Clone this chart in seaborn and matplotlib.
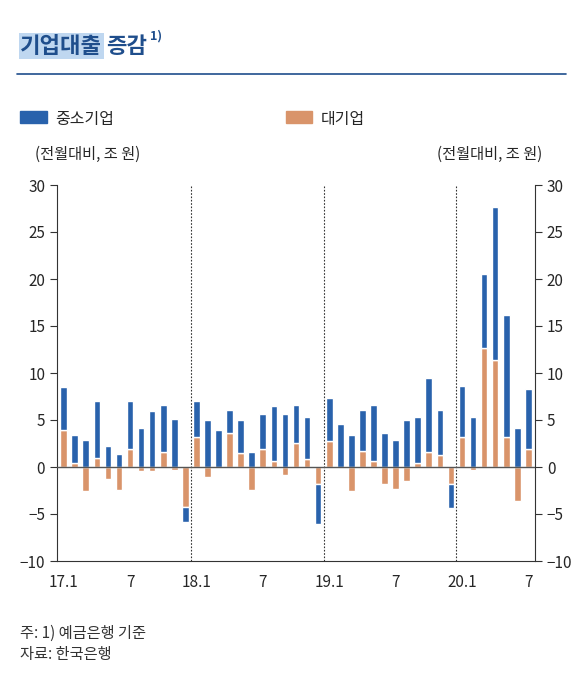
import numpy as np
import pandas as pd
import matplotlib
matplotlib.use("Agg")
import matplotlib.pyplot as plt
import seaborn as sns

sns.set_style("white")
plt.rcParams['font.family'] = ['Noto Sans CJK KR', 'DejaVu Sans']

months = [f"{y}.{m}" for y in (17, 18, 19, 20) for m in range(1, 13)][:43]
sme = [4.55, 2.95, 2.9, 6.05, 2.25, 1.4, 5.1, 4.1, 6.0, 5.0, 5.1, -1.5,
       3.85, 5.0, 3.95, 2.5, 3.55, 1.6, 3.7, 5.85, 5.6, 4.0, 4.5, -4.3,
       4.5, 4.6, 3.4, 4.35, 6.0, 3.6, 2.9, 5.0, 4.9, 7.9, 4.8, -2.6,
       5.5, 5.3, 7.85, 16.35, 13.0, 4.1, 6.4]
large = [3.95, 0.45, -2.6, 0.95, -1.3, -2.4, 1.9, -0.4, -0.4, 1.6, -0.3, -4.3,
         3.15, -1.1, 0.0, 3.6, 1.45, -2.4, 1.9, 0.6, -0.9, 2.6, 0.8, -1.8,
         2.8, 0.0, -2.5, 1.75, 0.6, -1.8, -2.3, -1.5, 0.4, 1.6, 1.3, -1.8,
         3.15, -0.3, 12.65, 11.35, 3.15, -3.6, 1.9]
tick_labels = ["17.1", "7", "18.1", "7", "19.1", "7", "20.1", "7"]
tick_idx = [0, 6, 12, 18, 24, 30, 36, 42]

df = pd.DataFrame({"month": months, "sme": sme, "large": large})
df["bottom"] = [l if (l * s > 0) else 0.0 for s, l in zip(sme, large)]

BLUE = "#2962AC"
ORANGE = "#D9946A"

fig = plt.figure(figsize=(5.83, 6.77), dpi=100)
ax = fig.add_axes([57/583, 1 - 561/677, (535-57)/583, (561-185)/677])

sns.barplot(data=df, x="month", y="large", color=ORANGE, width=0.6,
            saturation=1, ax=ax, zorder=2)
sns.barplot(data=df, x="month", y="sme", color=BLUE, width=0.6,
            saturation=1, ax=ax, bottom=df["bottom"].values, zorder=2)

ax.set_ylim(-10, 30)
ax.set_xlim(-0.6, 42.6)
ax.set_yticks(range(-10, 31, 5))
ax.axhline(0, color="#555555", lw=1, zorder=3)
for b in (11.5, 23.5, 35.5):
    ax.axvline(b, color="#333333", lw=0.8, ls=(0, (1.5, 1.5)), zorder=1)
ax.set_xticks(tick_idx)
ax.set_xticklabels(tick_labels)
ax.set_xlabel("")
ax.set_ylabel("")
for s in ("left", "right", "bottom"):
    ax.spines[s].set_visible(True)
    ax.spines[s].set_color("#333333")
ax.spines["top"].set_visible(False)
ax.tick_params(axis="y", which="both", left=True, right=True, labelleft=True,
               labelright=True, direction="out", length=5, labelsize=11, color="#333333")
ax.tick_params(axis="x", bottom=False, labelsize=11, pad=6)

fig.text(0.035, 0.922, "기업대출", fontsize=16, fontweight="bold", color="#1F4E8C",
         bbox=dict(facecolor="#BFD7F0", edgecolor="none", pad=1))
fig.text(0.182, 0.922, "증감", fontsize=16, fontweight="bold", color="#1F4E8C")
fig.text(0.258, 0.942, "1)", fontsize=9, fontweight="bold", color="#1F4E8C")
fig.add_artist(plt.Line2D([0.03, 0.97], [0.89, 0.89], color="#1F4E8C", lw=1.2))

fig.patches.append(plt.Rectangle((0.035, 0.818), 0.045, 0.018, color=BLUE, transform=fig.transFigure))
fig.text(0.095, 0.817, "중소기업", fontsize=11.5)
fig.patches.append(plt.Rectangle((0.49, 0.818), 0.045, 0.018, color=ORANGE, transform=fig.transFigure))
fig.text(0.55, 0.817, "대기업", fontsize=11.5)

fig.text(0.06, 0.765, "(전월대비, 조 원)", fontsize=11)
fig.text(0.93, 0.765, "(전월대비, 조 원)", fontsize=11, ha="right")
fig.text(0.035, 0.058, "주: 1) 예금은행 기준", fontsize=11, color="#333333")
fig.text(0.035, 0.027, "자료: 한국은행", fontsize=11, color="#333333")

fig.savefig("out.png", dpi=100)
